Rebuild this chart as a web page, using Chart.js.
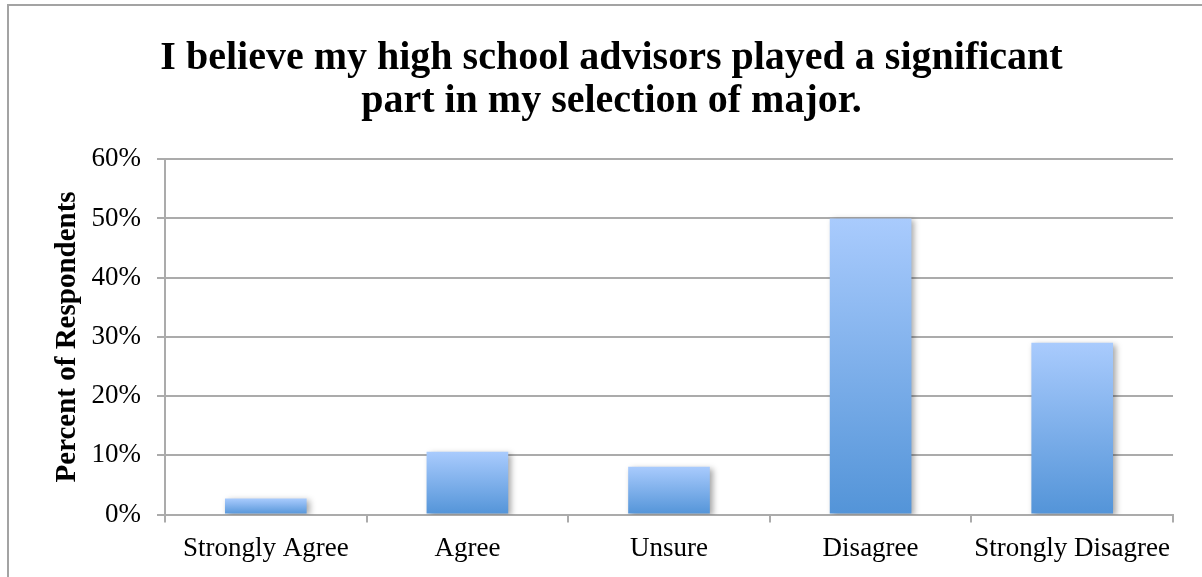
<!DOCTYPE html>
<html>
<head>
<meta charset="utf-8">
<script src="https://cdn.jsdelivr.net/npm/chart.js@4/dist/chart.umd.min.js"></script>
<style>
  html, body { margin: 0; padding: 0; background: #fff; }
  #wrap { width: 1202px; height: 577px; position: relative; }
</style>
</head>
<body>
<div id="wrap"><canvas id="c" width="1202" height="577"></canvas></div>
<script>
// Survey responses: share of respondents per answer (percent)
const categories = ['Strongly Agree', 'Agree', 'Unsure', 'Disagree', 'Strongly Disagree'];
const percentValues = [2.7, 10.6, 8.1, 50, 29];
const yTicks = [0, 10, 20, 30, 40, 50, 60];
const titleLines = ['I believe my high school advisors played a significant', 'part in my selection of major.'];
const yAxisTitle = 'Percent of Respondents';

const SERIF = '"Liberation Serif", "DejaVu Serif", serif';
const GRID = '#ababab';

// Vertical light-to-deep blue fill for each bar
function barGradient(c) {
  const chart = c.chart;
  if (!chart.chartArea || c.type !== 'data') return '#7fb1ea';
  const y = chart.scales.y;
  const top = y.getPixelForValue(c.dataset.data[c.dataIndex]);
  const base = y.getPixelForValue(0);
  const g = chart.ctx.createLinearGradient(0, top, 0, base);
  g.addColorStop(0, '#a9cbfd');
  g.addColorStop(1, '#5394d8');
  return g;
}

// Soft drop shadow behind the bars
const barShadow = {
  id: 'barShadow',
  beforeDatasetsDraw(chart) {
    const ctx = chart.ctx;
    ctx.save();
    ctx.shadowColor = 'rgba(0,0,0,0.35)';
    ctx.shadowBlur = 6;
    ctx.shadowOffsetX = 3;
    ctx.shadowOffsetY = 2;
  },
  afterDatasetsDraw(chart) { chart.ctx.restore(); }
};

// Frame lines along the top and left of the chart
const frame = {
  id: 'frame',
  beforeDraw(chart) {
    const ctx = chart.ctx;
    ctx.save();
    ctx.strokeStyle = '#a3a3a3';
    ctx.lineWidth = 2;
    ctx.beginPath();
    ctx.moveTo(8, chart.height);
    ctx.lineTo(8, 5);
    ctx.lineTo(chart.width, 5);
    ctx.stroke();
    ctx.restore();
  }
};

new Chart(document.getElementById('c'), {
  type: 'bar',
  data: {
    labels: categories,
    datasets: [{
      data: percentValues,
      backgroundColor: barGradient,
      borderWidth: 0,
      categoryPercentage: 1,
      barPercentage: 0.405
    }]
  },
  options: {
    responsive: false,
    animation: false,
    devicePixelRatio: 1,
    layout: { padding: { left: 50, right: 29, top: 38, bottom: 2 } },
    plugins: {
      legend: { display: false },
      tooltip: { enabled: false },
      title: {
        display: true,
        text: titleLines,
        color: '#000',
        font: { family: SERIF, size: 40, weight: 'bold', lineHeight: 1.053 },
        padding: { top: 0, bottom: 37 }
      }
    },
    scales: {
      x: {
        grid: {
          display: true,
          offset: true,
          drawOnChartArea: false,
          drawTicks: true,
          tickLength: 8,
          color: GRID,
          lineWidth: 2
        },
        border: { display: true, color: GRID, width: 2 },
        ticks: {
          color: '#000',
          font: { family: SERIF, size: 27 },
          padding: 10,
          maxRotation: 0,
          autoSkip: false
        }
      },
      y: {
        min: 0,
        max: 60,
        afterBuildTicks(scale) { scale.ticks = yTicks.map(v => ({ value: v })); },
        afterFit(scale) { scale.width = 115; },
        grid: { color: GRID, lineWidth: 2, tickLength: 8 },
        border: { display: true, color: GRID, width: 2 },
        ticks: {
          color: '#000',
          font: { family: SERIF, size: 27 },
          padding: 16,
          callback: v => v + '%'
        },
        title: {
          display: true,
          text: yAxisTitle,
          color: '#000',
          font: { family: SERIF, size: 29, weight: 'bold' },
          padding: { top: 0, bottom: 0 }
        }
      }
    }
  },
  plugins: [frame, barShadow]
});
</script>
</body>
</html>
